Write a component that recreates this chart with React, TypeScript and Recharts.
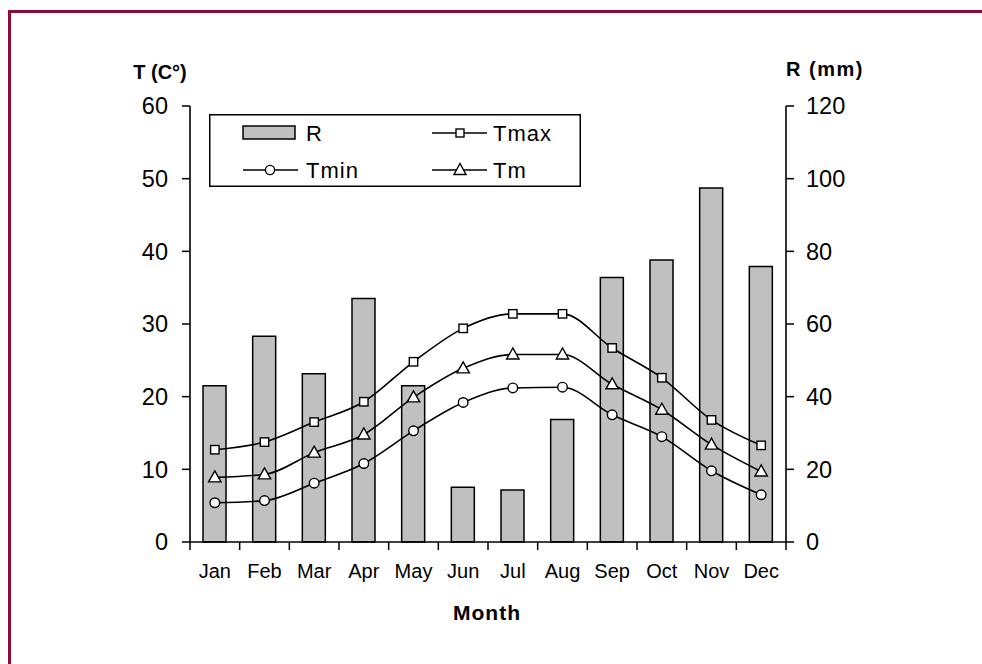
import React from 'react';
import { ComposedChart, Bar, Line, XAxis, YAxis } from 'recharts';

const months = ['Jan', 'Feb', 'Mar', 'Apr', 'May', 'Jun', 'Jul', 'Aug', 'Sep', 'Oct', 'Nov', 'Dec'];
const rainfall = [43.0, 56.6, 46.3, 67.0, 43.0, 15.1, 14.3, 33.7, 72.8, 77.6, 97.4, 75.8];
const tmax = [12.7, 13.75, 16.5, 19.3, 24.8, 29.4, 31.4, 31.4, 26.7, 22.6, 16.8, 13.3];
const tm = [8.9, 9.3, 12.3, 14.8, 19.9, 23.9, 25.8, 25.8, 21.7, 18.2, 13.4, 9.7];
const tmin = [5.4, 5.7, 8.1, 10.8, 15.3, 19.2, 21.2, 21.3, 17.5, 14.5, 9.8, 6.5];
const tTicks = [0, 10, 20, 30, 40, 50, 60];
const rTicks = [0, 20, 40, 60, 80, 100, 120];

const data = months.map((m, i) => ({ month: m, R: rainfall[i], Tmax: tmax[i], Tm: tm[i], Tmin: tmin[i] }));

const FONT = '"Liberation Sans", Arial, Helvetica, sans-serif';
const X_TICK_MARGIN = 22;
const X_TICK_LEN = 8;

const MonthTick = (p: any) => {
  const { x, y, payload, index, visibleTicksCount } = p;
  const half = payload && payload.offset ? payload.offset : 0;
  const axisY = y - X_TICK_MARGIN;
  const isLast = index === (visibleTicksCount ?? months.length) - 1;
  return (
    <g>
      <line x1={x - half} y1={axisY} x2={x - half} y2={axisY + X_TICK_LEN} stroke="#000" strokeWidth={1.5} />
      {isLast && <line x1={x + half} y1={axisY} x2={x + half} y2={axisY + X_TICK_LEN} stroke="#000" strokeWidth={1.5} />}
      <text x={x} y={y} dy="0.71em" textAnchor="middle" fontSize={20} fill="#000">{payload.value}</text>
    </g>
  );
};

const SquareDot = (p: any) => {
  if (p.cx == null || p.cy == null) return <g key={p.key} />;
  return <rect key={p.key ?? p.index} x={p.cx - 4.2} y={p.cy - 4.2} width={8.4} height={8.4} fill="#fff" stroke="#000" strokeWidth={1.4} />;
};
const CircleDot = (p: any) => {
  if (p.cx == null || p.cy == null) return <g key={p.key} />;
  return <circle key={p.key ?? p.index} cx={p.cx} cy={p.cy} r={4.8} fill="#fff" stroke="#000" strokeWidth={1.4} />;
};
const TriDot = (p: any) => {
  if (p.cx == null || p.cy == null) return <g key={p.key} />;
  const x = p.cx, y = p.cy;
  return <polygon key={p.key ?? p.index} points={`${x},${y - 6.5} ${x - 6.2},${y + 4.5} ${x + 6.2},${y + 4.5}`} fill="#fff" stroke="#000" strokeWidth={1.4} />;
};

export default function App() {
  return (
    <div style={{ position: 'fixed', left: 0, top: 0, width: 982, height: 664, overflow: 'hidden', background: '#fff', fontFamily: FONT }}>
      <div style={{ position: 'absolute', left: 8, top: 10, width: 1100, height: 800, borderTop: '3px solid #8E0C3A', borderLeft: '3px solid #8E0C3A' }} />
      <div style={{ position: 'absolute', left: 0, top: 0 }}>
        <ComposedChart width={982} height={664} data={data} margin={{ top: 106, right: 136, bottom: 82, left: 130 }}>
          <XAxis
            xAxisId="cat"
            dataKey="month"
            height={40}
            interval={0}
            tickLine={false}
            tickSize={0}
            tickMargin={X_TICK_MARGIN}
            axisLine={{ stroke: '#000', strokeWidth: 1.6 }}
            tick={MonthTick}
          />
          <YAxis
            yAxisId="t"
            orientation="left"
            width={60}
            domain={[0, 60]}
            ticks={tTicks}
            interval={0}
            tickSize={8}
            tickMargin={14}
            axisLine={{ stroke: '#000', strokeWidth: 1.6 }}
            tickLine={{ stroke: '#000', strokeWidth: 1.5 }}
            tick={{ fill: '#000', fontSize: 23.5 }}
          />
          <YAxis
            yAxisId="r"
            orientation="right"
            width={60}
            domain={[0, 120]}
            ticks={rTicks}
            interval={0}
            tickSize={8}
            tickMargin={12}
            axisLine={{ stroke: '#000', strokeWidth: 1.6 }}
            tickLine={{ stroke: '#000', strokeWidth: 1.5 }}
            tick={{ fill: '#000', fontSize: 23.5 }}
          />
          <Bar xAxisId="cat" yAxisId="r" dataKey="R" barSize={23} fill="#C0C0C0" stroke="#000" strokeWidth={1.5} isAnimationActive={false} />
          <Line xAxisId="cat" yAxisId="t" type="monotone" dataKey="Tmax" stroke="#000" strokeWidth={1.6} dot={SquareDot} activeDot={false} isAnimationActive={false} />
          <Line xAxisId="cat" yAxisId="t" type="monotone" dataKey="Tm" stroke="#000" strokeWidth={1.6} dot={TriDot} activeDot={false} isAnimationActive={false} />
          <Line xAxisId="cat" yAxisId="t" type="monotone" dataKey="Tmin" stroke="#000" strokeWidth={1.6} dot={CircleDot} activeDot={false} isAnimationActive={false} />
        </ComposedChart>
      </div>
      <svg width={982} height={664} style={{ position: 'absolute', left: 0, top: 0, pointerEvents: 'none' }}>
        <text x={160} y={79} textAnchor="middle" fontSize={20} fontWeight="bold" fill="#000">T (C°)</text>
        <text x={825} y={76} textAnchor="middle" fontSize={20} fontWeight="bold" letterSpacing={1.5} fill="#000">R (mm)</text>
        <text x={487} y={620} textAnchor="middle" fontSize={21} fontWeight="bold" letterSpacing={1} fill="#000">Month</text>
        <g transform="translate(209,114)">
          <rect x={0.75} y={0.75} width={370.5} height={71.5} fill="#fff" stroke="#000" strokeWidth={1.5} />
          <rect x={34} y={12} width={52} height={13} fill="#C0C0C0" stroke="#000" strokeWidth={1.5} />
          <text x={97} y={27} fontSize={22} letterSpacing={1} fill="#000">R</text>
          <line x1={223} y1={19} x2={278} y2={19} stroke="#000" strokeWidth={1.5} />
          <rect x={247} y={15} width={8} height={8} fill="#fff" stroke="#000" strokeWidth={1.4} />
          <text x={284} y={27} fontSize={22} letterSpacing={1} fill="#000">Tmax</text>
          <line x1={34} y1={56} x2={89} y2={56} stroke="#000" strokeWidth={1.5} />
          <circle cx={61} cy={56} r={4.6} fill="#fff" stroke="#000" strokeWidth={1.4} />
          <text x={97} y={64} fontSize={22} letterSpacing={1} fill="#000">Tmin</text>
          <line x1={223} y1={56} x2={278} y2={56} stroke="#000" strokeWidth={1.5} />
          <polygon points="251,49.5 245,60.5 257,60.5" fill="#fff" stroke="#000" strokeWidth={1.4} />
          <text x={284} y={64} fontSize={22} letterSpacing={1} fill="#000">Tm</text>
        </g>
      </svg>
    </div>
  );
}
